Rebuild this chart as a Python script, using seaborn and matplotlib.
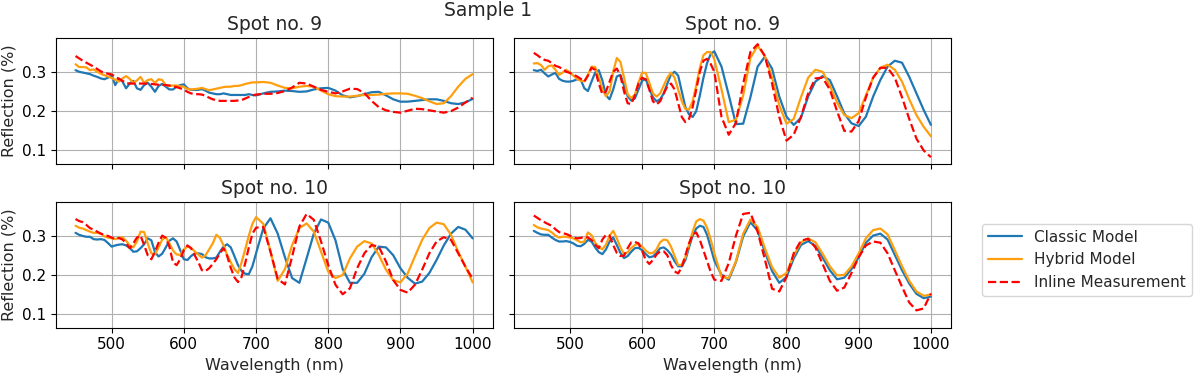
import numpy as np
import pandas as pd
import matplotlib
matplotlib.use("Agg")
import matplotlib.pyplot as plt
import seaborn as sns

# wavelength grid: 5 nm steps up to 700 nm, 10 nm steps after
wavelength = np.r_[450:700:5, 700:1001:10]

# Spot no. 9, left panel
classic_9a = [0.304, 0.300, 0.298, 0.296, 0.294, 0.290, 0.287, 0.283, 0.281, 0.285,
              0.291, 0.266, 0.283, 0.275, 0.258, 0.270, 0.277, 0.258, 0.254, 0.266,
              0.272, 0.262, 0.249, 0.264, 0.269, 0.262, 0.255, 0.255, 0.262, 0.266,
              0.268, 0.258, 0.254, 0.254, 0.254, 0.256, 0.252, 0.247, 0.245, 0.243,
              0.243, 0.245, 0.243, 0.241, 0.241, 0.241, 0.241, 0.241, 0.243, 0.241,
              0.240,
              0.245, 0.249, 0.250, 0.252, 0.251, 0.249, 0.250, 0.255, 0.258, 0.259,
              0.252, 0.240, 0.235, 0.238, 0.243, 0.248, 0.249, 0.240, 0.230, 0.224,
              0.224, 0.226, 0.228, 0.230, 0.230, 0.226, 0.220, 0.218, 0.222, 0.231]
hybrid_9a = [0.319, 0.312, 0.312, 0.311, 0.304, 0.306, 0.300, 0.295, 0.291, 0.288,
             0.284, 0.280, 0.275, 0.283, 0.289, 0.282, 0.272, 0.278, 0.287, 0.272,
             0.279, 0.281, 0.272, 0.281, 0.279, 0.266, 0.264, 0.265, 0.265, 0.263,
             0.262, 0.256, 0.255, 0.256, 0.257, 0.259, 0.256, 0.253, 0.255, 0.257,
             0.259, 0.261, 0.262, 0.262, 0.264, 0.264, 0.266, 0.269, 0.271, 0.273,
             0.273,
             0.274, 0.272, 0.265, 0.259, 0.258, 0.262, 0.264, 0.262, 0.252, 0.243,
             0.238, 0.237, 0.237, 0.239, 0.241, 0.241, 0.242, 0.244, 0.245, 0.245,
             0.244, 0.239, 0.233, 0.225, 0.218, 0.220, 0.238, 0.262, 0.282, 0.294]
inline_9a = [0.340, 0.334, 0.328, 0.323, 0.318, 0.313, 0.307, 0.301, 0.297, 0.295,
             0.293, 0.288, 0.282, 0.277, 0.271, 0.270, 0.270, 0.270, 0.270, 0.270,
             0.270, 0.269, 0.268, 0.267, 0.267, 0.266, 0.265, 0.263, 0.261, 0.258,
             0.254, 0.249, 0.245, 0.243, 0.243, 0.242, 0.239, 0.234, 0.230, 0.228,
             0.226, 0.226, 0.226, 0.226, 0.226, 0.227, 0.228, 0.232, 0.236, 0.240,
             0.242,
             0.244, 0.244, 0.246, 0.251, 0.260, 0.272, 0.270, 0.262, 0.254, 0.249,
             0.245, 0.250, 0.257, 0.256, 0.246, 0.226, 0.210, 0.202, 0.198, 0.196,
             0.201, 0.206, 0.205, 0.202, 0.199, 0.196, 0.200, 0.209, 0.222, 0.234]

# Spot no. 9, right panel
classic_9b = [0.304, 0.302, 0.305, 0.296, 0.288, 0.293, 0.297, 0.282, 0.277, 0.275,
              0.275, 0.277, 0.281, 0.280, 0.258, 0.251, 0.275, 0.298, 0.304, 0.278,
              0.240, 0.230, 0.255, 0.288, 0.292, 0.265, 0.238, 0.227, 0.232, 0.255,
              0.277, 0.282, 0.258, 0.235, 0.225, 0.230, 0.245, 0.270, 0.293, 0.300,
              0.290, 0.250, 0.210, 0.192, 0.185, 0.200, 0.240, 0.285, 0.322, 0.345,
              0.352,
              0.313, 0.241, 0.167, 0.168, 0.235, 0.313, 0.338, 0.308, 0.237, 0.186,
              0.165, 0.183, 0.237, 0.275, 0.289, 0.279, 0.238, 0.194, 0.169, 0.162,
              0.186, 0.237, 0.279, 0.313, 0.328, 0.323, 0.287, 0.245, 0.203, 0.165]
hybrid_9b = [0.321, 0.322, 0.317, 0.305, 0.314, 0.316, 0.305, 0.292, 0.298, 0.305,
             0.298, 0.290, 0.282, 0.277, 0.276, 0.292, 0.313, 0.312, 0.285, 0.255,
             0.238, 0.250, 0.300, 0.335, 0.325, 0.285, 0.243, 0.233, 0.242, 0.272,
             0.298, 0.297, 0.272, 0.245, 0.237, 0.245, 0.265, 0.285, 0.298, 0.285,
             0.255, 0.225, 0.205, 0.204, 0.225, 0.265, 0.310, 0.342, 0.350, 0.350,
             0.332,
             0.255, 0.172, 0.178, 0.240, 0.335, 0.366, 0.340, 0.285, 0.215, 0.168,
             0.180, 0.235, 0.285, 0.305, 0.300, 0.265, 0.222, 0.190, 0.182, 0.195,
             0.240, 0.285, 0.310, 0.318, 0.305, 0.275, 0.230, 0.190, 0.160, 0.136]
inline_9b = [0.348, 0.342, 0.335, 0.330, 0.328, 0.322, 0.315, 0.312, 0.307, 0.300,
             0.297, 0.292, 0.288, 0.282, 0.275, 0.290, 0.310, 0.305, 0.270, 0.243,
             0.250, 0.275, 0.300, 0.308, 0.290, 0.250, 0.220, 0.218, 0.240, 0.270,
             0.285, 0.280, 0.255, 0.225, 0.217, 0.225, 0.245, 0.263, 0.270, 0.255,
             0.220, 0.185, 0.172, 0.180, 0.210, 0.255, 0.300, 0.328, 0.333, 0.320,
             0.300,
             0.185, 0.140, 0.170, 0.270, 0.350, 0.370, 0.340, 0.270, 0.185, 0.125,
             0.140, 0.185, 0.245, 0.283, 0.285, 0.255, 0.200, 0.150, 0.148, 0.175,
             0.235, 0.285, 0.310, 0.310, 0.285, 0.235, 0.180, 0.130, 0.100, 0.083]

# Spot no. 10, left panel
classic_10a = [0.307, 0.302, 0.299, 0.297, 0.297, 0.291, 0.290, 0.291, 0.289, 0.281,
               0.272, 0.275, 0.277, 0.278, 0.275, 0.269, 0.259, 0.260, 0.268, 0.278,
               0.293, 0.288, 0.258, 0.247, 0.254, 0.270, 0.287, 0.293, 0.285, 0.263,
               0.240, 0.238, 0.248, 0.254, 0.255, 0.253, 0.245, 0.242, 0.242, 0.244,
               0.259, 0.272, 0.278, 0.270, 0.248, 0.225, 0.210, 0.203, 0.202, 0.222,
               0.255,
               0.318, 0.344, 0.305, 0.245, 0.192, 0.180, 0.242, 0.305, 0.341, 0.333,
               0.288, 0.215, 0.180, 0.180, 0.203, 0.245, 0.272, 0.270, 0.250, 0.217,
               0.193, 0.178, 0.183, 0.205, 0.238, 0.275, 0.305, 0.322, 0.315, 0.293]
hybrid_10a = [0.325, 0.320, 0.318, 0.314, 0.310, 0.307, 0.307, 0.305, 0.298, 0.295,
              0.293, 0.291, 0.294, 0.296, 0.287, 0.275, 0.270, 0.285, 0.310, 0.309,
              0.280, 0.255, 0.252, 0.270, 0.290, 0.296, 0.280, 0.262, 0.252, 0.251,
              0.265, 0.272, 0.269, 0.260, 0.252, 0.244, 0.250, 0.265, 0.280, 0.302,
              0.294, 0.275, 0.251, 0.232, 0.215, 0.205, 0.232, 0.265, 0.300, 0.330,
              0.347,
              0.330, 0.260, 0.185, 0.215, 0.276, 0.319, 0.331, 0.310, 0.259, 0.208,
              0.192, 0.200, 0.242, 0.272, 0.286, 0.280, 0.251, 0.213, 0.187, 0.181,
              0.204, 0.247, 0.289, 0.319, 0.333, 0.329, 0.302, 0.259, 0.221, 0.181]
inline_10a = [0.342, 0.337, 0.334, 0.327, 0.319, 0.315, 0.310, 0.305, 0.302, 0.299,
              0.295, 0.291, 0.294, 0.290, 0.281, 0.268, 0.280, 0.295, 0.300, 0.276,
              0.250, 0.240, 0.259, 0.282, 0.300, 0.294, 0.272, 0.232, 0.225, 0.240,
              0.263, 0.275, 0.268, 0.250, 0.233, 0.212, 0.210, 0.217, 0.228, 0.240,
              0.255, 0.268, 0.248, 0.218, 0.194, 0.182, 0.195, 0.230, 0.270, 0.305,
              0.320,
              0.322, 0.259, 0.190, 0.176, 0.247, 0.323, 0.355, 0.340, 0.285, 0.225,
              0.175, 0.151, 0.166, 0.217, 0.255, 0.276, 0.272, 0.234, 0.187, 0.162,
              0.155, 0.175, 0.213, 0.255, 0.285, 0.296, 0.289, 0.255, 0.221, 0.190]

# Spot no. 10, right panel
classic_10b = [0.312, 0.307, 0.303, 0.302, 0.302, 0.295, 0.289, 0.285, 0.285, 0.286,
               0.284, 0.280, 0.274, 0.273, 0.279, 0.289, 0.285, 0.270, 0.258, 0.253,
               0.265, 0.285, 0.295, 0.276, 0.256, 0.243, 0.248, 0.259, 0.268, 0.269,
               0.263, 0.253, 0.245, 0.247, 0.256, 0.268, 0.270, 0.263, 0.252, 0.235,
               0.222, 0.222, 0.238, 0.270, 0.300, 0.318, 0.325, 0.322, 0.302, 0.270,
               0.237,
               0.200, 0.188, 0.233, 0.298, 0.334, 0.313, 0.259, 0.210, 0.180, 0.195,
               0.242, 0.276, 0.286, 0.274, 0.244, 0.212, 0.189, 0.193, 0.215, 0.245,
               0.282, 0.300, 0.305, 0.290, 0.251, 0.212, 0.178, 0.152, 0.141, 0.145]
hybrid_10b = [0.327, 0.321, 0.318, 0.316, 0.314, 0.308, 0.300, 0.295, 0.297, 0.297,
              0.295, 0.293, 0.288, 0.283, 0.285, 0.308, 0.301, 0.282, 0.271, 0.265,
              0.277, 0.300, 0.312, 0.293, 0.270, 0.253, 0.258, 0.268, 0.276, 0.280,
              0.272, 0.262, 0.255, 0.256, 0.265, 0.283, 0.290, 0.288, 0.272, 0.248,
              0.225, 0.226, 0.245, 0.278, 0.310, 0.336, 0.342, 0.338, 0.320, 0.290,
              0.255,
              0.195, 0.192, 0.235, 0.305, 0.341, 0.322, 0.268, 0.220, 0.193, 0.205,
              0.250, 0.283, 0.293, 0.283, 0.254, 0.222, 0.199, 0.200, 0.222, 0.255,
              0.293, 0.314, 0.318, 0.303, 0.263, 0.222, 0.185, 0.158, 0.147, 0.150]
inline_10b = [0.351, 0.345, 0.339, 0.334, 0.329, 0.325, 0.316, 0.309, 0.306, 0.304,
              0.300, 0.295, 0.293, 0.294, 0.297, 0.295, 0.289, 0.277, 0.268, 0.290,
              0.302, 0.300, 0.276, 0.256, 0.248, 0.249, 0.268, 0.283, 0.284, 0.280,
              0.262, 0.238, 0.228, 0.238, 0.252, 0.260, 0.260, 0.250, 0.225, 0.209,
              0.204, 0.220, 0.250, 0.280, 0.302, 0.308, 0.289, 0.262, 0.235, 0.208,
              0.188,
              0.185, 0.230, 0.300, 0.355, 0.358, 0.310, 0.240, 0.165, 0.158, 0.195,
              0.255, 0.287, 0.292, 0.270, 0.228, 0.185, 0.160, 0.168, 0.205, 0.245,
              0.275, 0.285, 0.282, 0.255, 0.212, 0.170, 0.130, 0.110, 0.115, 0.153]

titles = ["Spot no. 9", "Spot no. 9", "Spot no. 10", "Spot no. 10"]
panels = [(classic_9a, hybrid_9a, inline_9a),
          (classic_9b, hybrid_9b, inline_9b),
          (classic_10a, hybrid_10a, inline_10a),
          (classic_10b, hybrid_10b, inline_10b)]
series_names = ["Classic Model", "Hybrid Model", "Inline Measurement"]
colors = ["#1f77b4", "#ff9f0e", "#ff0000"]
dashes = ["-", "-", "--"]

sns.set_style("ticks", {"axes.grid": True, "grid.color": "#b0b0b0",
                        "axes.edgecolor": "black"})
plt.rcParams["font.family"] = ["DejaVu Sans"]
plt.rcParams["xtick.labelsize"] = 11
plt.rcParams["ytick.labelsize"] = 11

fig, axes = plt.subplots(2, 2, figsize=(12, 3.74), dpi=100, sharex=True, sharey=True)
fig.subplots_adjust(left=0.0464, right=0.7923, top=0.8976, bottom=0.1238,
                    wspace=0.049, hspace=0.305)

for ax, title, data in zip(axes.flat, titles, panels):
    for name, vals, c, ls in zip(series_names, data, colors, dashes):
        df = pd.DataFrame({"wl": wavelength, "r": vals})
        sns.lineplot(data=df, x="wl", y="r", ax=ax, color=c, linestyle=ls,
                     linewidth=1.6, label=name, legend=False)
    ax.set_title(title, fontsize=13.5)
    ax.set_xlabel("")
    ax.set_ylabel("")
    ax.grid(True, color="#b0b0b0", linewidth=0.8)
    for s in ax.spines.values():
        s.set_color("black")
        s.set_linewidth(0.8)
    ax.tick_params(colors="black", length=3.5, width=0.8)

axes[0, 0].set_xlim(422.5, 1027.5)
axes[0, 0].set_ylim(0.066, 0.385)
axes[0, 0].set_xticks([500, 600, 700, 800, 900, 1000])
axes[0, 0].set_yticks([0.1, 0.2, 0.3])

for ax in axes[:, 0]:
    ax.set_ylabel("Reflection (%)", fontsize=11.5)
for ax in axes[1, :]:
    ax.set_xlabel("Wavelength (nm)", fontsize=11.5)

handles, labels = axes[0, 0].get_legend_handles_labels()
fig.legend(handles, labels, loc="center left", bbox_to_anchor=(0.812, 0.305),
           fontsize=11, frameon=True, handlelength=2.2)
fig.suptitle("Sample 1", fontsize=13.5, x=0.407, y=0.998)

fig.savefig("out.png", dpi=100)
